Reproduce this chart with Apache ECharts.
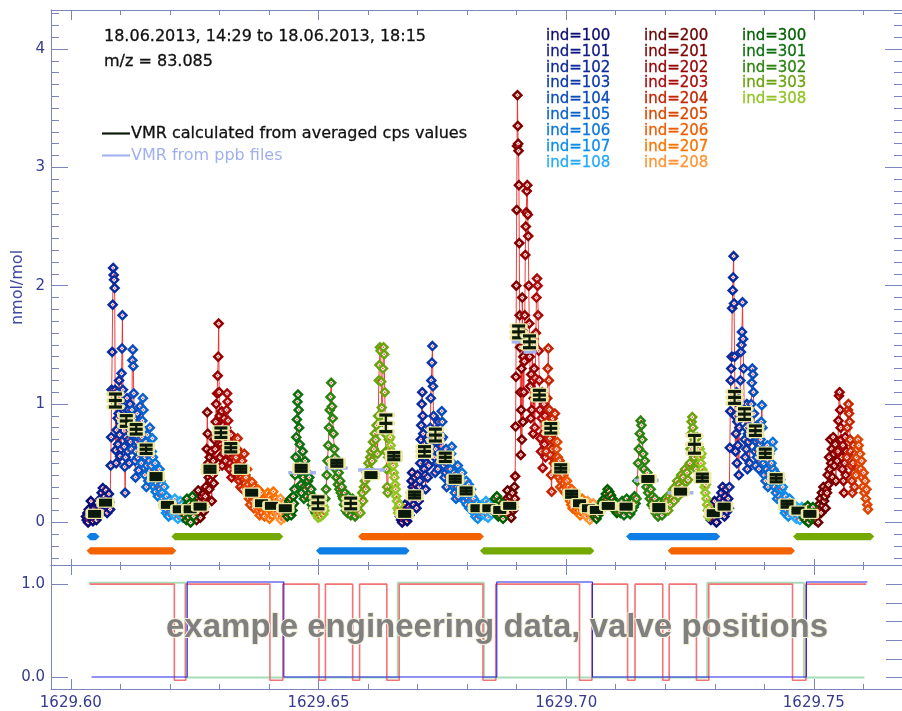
<!DOCTYPE html>
<html>
<head>
<meta charset="utf-8">
<script src="https://cdn.jsdelivr.net/npm/echarts@6/dist/echarts.min.js"></script>
<style>
  html, body { margin: 0; padding: 0; background: #ffffff; }
  #chart { width: 902px; height: 711px; }
</style>
</head>
<body>
<div id="chart"></div>
<script>
// ---- measurement blocks: edges of each block (fractional day) and the ind it belongs to ----
const segEdges = [1629.6030,1629.6058,1629.6080,1629.6102,1629.6122,1629.6142,1629.6162,1629.6184,1629.6207,1629.6229,
  1629.6251,1629.6271,1629.6291,1629.6313,1629.6333,1629.6353,1629.6375,1629.6395,1629.6415,1629.6435,
  1629.6451,1629.6477,1629.6495,1629.6513,1629.6549,1629.6580,1629.6620,1629.6644,1629.6664,1629.6684,
  1629.6704,1629.6724,1629.6746,1629.6766,1629.6788,1629.6810,1629.6832,1629.6854,1629.6876,1629.6896,
  1629.6914,1629.6936,1629.6959,1629.6979,1629.7001,1629.7021,1629.7037,1629.7057,1629.7105,1629.7141,
  1629.7175,1629.7201,1629.7249,1629.7269,1629.7289,1629.7309,1629.7329,1629.7350,1629.7372,1629.7392,
  1629.7414,1629.7434,1629.7456,1629.7478,1629.7502,1629.7526,1629.7548,1629.7566,1629.7584,1629.7610];

const segInd = [100,101,102,103,104,105,106,107,108,300,200,201,202,203,204,205,206,207,208,
  300,301,301,308,302,302,303,303,308,
  100,101,102,103,104,105,106,107,108,300,200,201,202,203,204,205,206,207,208,
  300,301,302,302,303,303,308,
  100,101,102,103,104,105,106,107,108,300,200,201,202,204,205];

// VMR samples (nmol/mol) of every block, first cycle
const cycle1Samples = [
  [0.05,0.02,0.08,0.00,0.11,0.04,0.07,0.18,0.03,0.09,0.01,0.06,0.12,0.04,0.08,0.02,0.10,0.06,0.13,0.07],
  [0.12,0.20,0.09,0.25,0.15,0.29,0.18,0.10,0.22,0.14,0.27,0.16,0.08,0.20,0.13,0.24,0.17,0.11],
  [0.48,0.72,1.12,1.44,1.84,2.15,2.09,2.05,1.98,1.12,0.61,0.50,0.78,1.10,0.88,0.66,0.92,1.20,0.74,0.56,0.84,0.62],
  [1.26,1.47,1.75,1.12,0.98,0.87,0.64,0.47,0.25,0.55,0.72,0.90,1.05,0.82,0.60,0.95,0.70,0.50,0.85,1.00,0.68,0.78],
  [0.62,0.95,1.37,1.46,1.32,1.09,0.88,0.74,0.52,0.38,0.60,0.80,0.68,0.92,0.55,0.72,0.44,0.85,0.64,0.98,0.70,0.58],
  [0.50,0.72,0.86,1.05,0.95,0.78,0.62,0.40,0.55,0.68,0.30,0.48,0.74,0.58,0.35,0.65,0.52,0.80,0.44,0.60],
  [0.48,0.60,0.71,0.55,0.42,0.30,0.36,0.50,0.26,0.44,0.33,0.40,0.22,0.38,0.30,0.45,0.28,0.35,0.24,0.32],
  [0.25,0.20,0.15,0.30,0.12,0.18,0.08,0.22,0.10,0.16,0.05,0.13,0.19,0.09,0.14,0.07,0.17,0.11],
  [0.14,0.08,0.20,0.05,0.12,0.10,0.16,0.03,0.09,0.13,0.06,0.18,0.11,0.07,0.15,0.04,0.10,0.12],
  [0.10,0.06,0.14,0.02,0.20,0.08,0.12,0.04,0.16,0.10,0.00,0.13,0.07,0.22,0.09,0.05,0.11,0.15],
  [0.06,0.10,0.02,0.15,0.20,0.27,0.12,0.08,0.18,0.04,0.14,0.22,0.10,0.16,0.24,0.09,0.13,0.19],
  [0.22,0.30,0.45,0.62,0.93,0.75,0.50,0.38,0.28,0.55,0.42,0.35,0.60,0.18,0.48,0.40,0.52,0.33,0.70,0.44],
  [0.62,0.85,1.00,0.72,1.09,1.24,1.40,1.68,1.10,0.90,0.55,0.78,0.66,0.94,0.48,0.70,0.82,0.58,0.88,0.64,0.75,0.52],
  [0.80,0.95,1.09,1.02,0.86,0.70,0.58,0.45,0.62,0.50,0.74,0.38,0.66,0.55,0.42,0.60,0.48,0.68,0.52,0.57],
  [0.55,0.48,0.62,0.71,0.60,0.42,0.35,0.50,0.30,0.45,0.38,0.52,0.28,0.44,0.36,0.58,0.33,0.40],
  [0.38,0.30,0.45,0.25,0.32,0.20,0.28,0.15,0.26,0.22,0.34,0.18,0.24,0.12,0.30,0.20,0.27,0.16],
  [0.22,0.15,0.28,0.10,0.18,0.06,0.20,0.12,0.25,0.14,0.08,0.19,0.13,0.17,0.05,0.21,0.11,0.16],
  [0.20,0.12,0.25,0.08,0.18,0.03,0.22,0.14,0.10,0.19,0.06,0.16,0.26,0.11,0.15,0.09,0.20,0.13],
  [0.14,0.08,0.18,0.05,0.12,0.10,0.20,0.02,0.15,0.07,0.11,0.16,0.04,0.13,0.09,0.12],
  [0.10,0.05,0.15,0.08,0.18,0.12,0.20,0.06,0.14,0.10,0.22,0.16],
  [0.28,0.40,0.55,0.72,0.87,1.02,1.08,0.95,0.80,0.66,0.50,0.32,0.25,0.45,0.60,0.38,0.20,0.30,0.52,0.28,0.42,0.22],
  [0.42,0.35,0.30,0.38,0.25,0.20,0.28,0.15,0.22,0.12,0.18,0.10,0.16,0.08],
  [0.10,0.06,0.14,0.04,0.12,0.08,0.18,0.05,0.11,0.09,0.15,0.07,0.13,0.10],
  [0.20,0.28,0.40,0.52,0.65,0.80,0.95,1.06,1.18,0.98,0.88,0.75,0.62,0.55,0.45,0.38,0.50,0.32,0.42,0.28,0.35,0.25,0.30,0.22],
  [0.20,0.15,0.25,0.10,0.18,0.08,0.22,0.12,0.16,0.06,0.14,0.20,0.10,0.17,0.05,0.13,0.09,0.15],
  [0.10,0.15,0.08,0.20,0.25,0.18,0.30,0.35,0.28,0.42,0.38,0.50,0.45,0.55,0.60,0.52,0.68,0.62,0.75,0.70,0.82,0.58],
  [0.90,1.20,1.33,1.48,1.45,1.19,0.97,0.85,1.30,1.48,1.42,1.10,0.75,0.60,0.45,0.30,0.25,0.55,0.70,0.62],
  [0.72,0.65,0.60,0.55,0.50,0.48,0.42,0.38,0.32,0.28,0.22,0.18,0.12,0.08,0.10,0.15]
];
// second cycle
const cycle2Samples = [
  [0.05,0.10,0.02,0.08,0.00,0.12,0.06,0.03,0.09,0.15,0.04,0.07,0.11,0.01,0.08,0.05,0.13,0.06],
  [0.10,0.18,0.25,0.35,0.42,0.30,0.22,0.15,0.28,0.38,0.20,0.32,0.12,0.26,0.40,0.24,0.18,0.30],
  [0.35,0.50,0.70,0.82,1.00,1.10,0.90,0.75,0.60,0.45,0.55,0.40,0.28,0.62,0.50,0.70,0.38,0.58,0.48,0.65],
  [0.60,0.80,1.05,1.20,1.35,1.49,1.15,0.90,0.70,0.55,0.42,0.62,0.78,0.50,0.68,0.45,0.85,0.58,0.72,0.52],
  [0.50,0.70,0.94,0.85,0.72,0.60,0.48,0.38,0.55,0.42,0.62,0.30,0.50,0.45,0.58,0.35,0.52,0.40],
  [0.45,0.58,0.64,0.50,0.38,0.30,0.42,0.25,0.35,0.20,0.40,0.30,0.48,0.22,0.36,0.28,0.33,0.26],
  [0.30,0.42,0.36,0.25,0.30,0.18,0.28,0.22,0.35,0.15,0.26,0.20,0.32,0.12,0.24,0.18,0.28,0.22],
  [0.18,0.12,0.20,0.08,0.15,0.05,0.12,0.10,0.16,0.03,0.13,0.09,0.14,0.06,0.11,0.08,0.15,0.10],
  [0.10,0.14,0.06,0.12,0.18,0.08,0.15,0.04,0.11,0.16,0.09,0.13,0.07,0.12,0.10,0.14],
  [0.12,0.20,0.08,0.15,0.22,0.10,0.05,0.14,0.18,0.06,0.12,0.09,0.16,0.03,0.10,0.13],
  [0.10,0.15,0.06,0.20,0.27,0.12,0.18,0.08,0.22,0.14,0.04,0.16,0.25,0.10,0.13,0.30],
  [0.20,0.39,0.81,1.23,2.00,2.64,3.18,3.61,3.35,3.20,3.14,2.85,2.36,1.75,1.48,1.10,0.57,0.95,1.30,0.70,1.90,1.62,0.85,1.40],
  [1.10,1.36,1.75,2.26,2.50,2.62,2.80,2.85,2.60,2.42,2.00,1.68,1.40,1.15,0.88,1.25,0.95,1.55,1.20,0.75,1.05,1.30],
  [0.80,1.22,1.60,1.90,2.06,2.00,1.75,1.45,1.20,0.95,0.71,0.60,0.88,1.10,0.46,0.75,1.00,0.66,0.90,0.55],
  [0.60,0.85,1.05,1.30,1.47,1.20,0.95,0.71,0.57,0.40,0.26,0.62,0.88,0.75,0.50,0.68,0.92,0.55],
  [0.50,0.62,0.68,0.55,0.45,0.38,0.52,0.30,0.42,0.35,0.48,0.28,0.40,0.33,0.44,0.25,0.36,0.30],
  [0.35,0.28,0.30,0.22,0.26,0.18,0.24,0.15,0.28,0.12,0.20,0.25,0.16,0.22,0.10,0.19],
  [0.20,0.14,0.22,0.10,0.18,0.06,0.16,0.12,0.20,0.08,0.15,0.11],
  [0.15,0.10,0.05,0.12,0.18,0.08,0.14,0.02,0.10,0.13,0.06,0.11,0.16,0.09],
  [0.05,0.08,0.03,0.10,0.06,0.12,0.09,0.15,0.11,0.18,0.14,0.20,0.16,0.24,0.19,0.28,0.22,0.26,0.18,0.23,0.15,0.20,0.12,0.17,0.10,0.14,0.08,0.12],
  [0.10,0.15,0.08,0.13,0.18,0.10,0.06,0.14,0.11,0.20,0.09,0.16,0.12,0.07,0.15,0.10,0.18,0.13,0.22,0.16],
  [0.20,0.35,0.50,0.62,0.75,0.86,0.82,0.70,0.58,0.45,0.52,0.38,0.30,0.42,0.25,0.34,0.20,0.28,0.15,0.22],
  [0.18,0.12,0.20,0.08,0.15,0.10,0.05,0.13,0.17,0.09,0.14,0.06,0.12,0.16,0.10,0.20],
  [0.12,0.18,0.10,0.22,0.15,0.25,0.20,0.28,0.18,0.30,0.24,0.35,0.22,0.32,0.28,0.40,0.30,0.38,0.26,0.45,0.34,0.42,0.36,0.48],
  [0.50,0.62,0.75,0.85,0.89,0.80,0.67,0.55,0.70,0.60,0.45,0.58,0.72,0.50,0.64,0.38],
  [0.62,0.55,0.50,0.58,0.45,0.40,0.35,0.42,0.30,0.25,0.32,0.20,0.15,0.10,0.05,0.12]
];
// third cycle
const cycle3Samples = [
  [0.05,0.10,0.02,0.12,0.06,0.15,0.03,0.08,0.18,0.04,0.09,0.00,0.11,0.06,0.14,0.07],
  [0.12,0.20,0.08,0.25,0.15,0.30,0.10,0.18,0.05,0.22,0.14,0.28,0.09,0.16,0.20,0.12],
  [0.30,0.63,0.94,1.20,1.30,1.40,1.81,1.96,2.07,2.25,1.85,1.40,0.90,0.60,0.75,1.10,0.50,0.85,0.65,1.00,0.40,0.80],
  [0.90,1.20,1.44,1.50,1.61,1.86,1.55,1.30,0.95,0.70,0.55,0.80,0.62,1.00,0.45,0.75,0.68,0.88,0.50,0.72],
  [0.80,1.00,1.18,1.30,1.25,1.10,0.92,0.75,0.60,0.48,0.68,0.55,0.82,0.62,0.70,0.45,0.58,0.66],
  [0.70,0.85,0.99,0.80,0.62,0.50,0.40,0.55,0.35,0.60,0.45,0.65,0.30,0.52,0.42,0.58,0.48,0.38],
  [0.50,0.62,0.68,0.45,0.38,0.30,0.42,0.25,0.35,0.20,0.40,0.28,0.33,0.22,0.36,0.18],
  [0.28,0.20,0.30,0.12,0.18,0.08,0.22,0.14,0.10,0.16,0.05,0.13,0.20,0.09,0.15,0.11],
  [0.12,0.08,0.15,0.05,0.10,0.14,0.03,0.09,0.12,0.06,0.11,0.02,0.10,0.08,0.13,0.07],
  [0.08,0.04,0.12,0.02,0.10,0.06,0.14,0.00,0.07,0.11,0.03,0.09,0.05,0.13,0.08,0.06],
  [0.02,0.08,0.05,0.12,0.00,0.15,0.10,0.20,0.08,0.25,0.14,0.30,0.18,0.22,0.12,0.28],
  [0.25,0.40,0.32,0.55,0.45,0.70,0.50,0.62,0.38,0.72,0.58,0.48,0.66,0.35,0.60,0.52],
  [0.60,0.86,1.07,1.10,0.95,0.80,0.70,0.55,0.45,0.65,0.35,0.25,0.50,0.72,0.40,0.60],
  [0.55,0.80,0.95,1.00,0.92,0.85,0.70,0.60,0.48,0.35,0.25,0.50,0.65,0.42,0.30,0.58],
  [0.40,0.55,0.62,0.70,0.65,0.50,0.58,0.45,0.52,0.38,0.30,0.42,0.25,0.35,0.20,0.28,0.15,0.11]
];

// VMR calculated from averaged cps values: time, mean, half error range
const barTime = [1629.6048,1629.6070,1629.6090,1629.6112,1629.6132,1629.6152,1629.6172,1629.6195,1629.6219,1629.6241,
  1629.6261,1629.6281,1629.6303,1629.6323,1629.6343,1629.6365,1629.6385,1629.6405,1629.6433,1629.6465,
  1629.6499,1629.6537,1629.6565,1629.6606,1629.6636,1629.6652,1629.6674,1629.6694,1629.6714,1629.6736,
  1629.6756,1629.6776,1629.6798,1629.6820,1629.6844,1629.6866,1629.6886,1629.6904,1629.6926,1629.6946,
  1629.6969,1629.6989,1629.7011,1629.7027,1629.7045,1629.7061,1629.7085,1629.7121,1629.7165,1629.7187,
  1629.7231,1629.7259,1629.7275,1629.7297,1629.7319,1629.7340,1629.7360,1629.7382,1629.7402,1629.7424,
  1629.7446,1629.7468,1629.7492];
const barMean = [0.072,0.167,1.03,0.857,0.787,0.618,0.387,0.148,0.111,0.111,
  0.133,0.449,0.758,0.631,0.449,0.251,0.162,0.14,0.12,0.457,
  0.165,0.50,0.16,0.40,0.837,0.56,0.072,0.232,0.60,0.738,
  0.55,0.365,0.266,0.12,0.12,0.105,0.14,1.61,1.526,1.076,
  0.795,0.457,0.238,0.162,0.12,0.105,0.139,0.133,0.367,0.125,
  0.26,0.66,0.378,0.078,0.133,1.056,0.915,0.775,0.584,0.373,
  0.154,0.10,0.072];
const barErr = [0.02,0.02,0.055,0.045,0.04,0.035,0.025,0.02,0.02,0.02,
  0.02,0.025,0.04,0.035,0.025,0.02,0.02,0.02,0.02,0.025,
  0.05,0.025,0.045,0.02,0.07,0.03,0.02,0.025,0.04,0.05,
  0.035,0.025,0.025,0.02,0.02,0.02,0.02,0.05,0.05,0.04,
  0.04,0.03,0.025,0.02,0.02,0.02,0.02,0.02,0.02,0.025,
  0.02,0.075,0.03,0.02,0.02,0.05,0.045,0.04,0.035,0.03,
  0.025,0.02,0.02];

// VMR from ppb files: start, end, value
const ppbStart = [1629.6078,1629.6100,1629.6439,1629.6513,1629.6580,1629.6890,1629.6914,1629.6934,1629.6957,1629.7137,1629.7205,1629.7325,1629.7348];
const ppbEnd   = [1629.6102,1629.6124,1629.6495,1629.6559,1629.6634,1629.6918,1629.6940,1629.6959,1629.6981,1629.7187,1629.7257,1629.7354,1629.7374];
const ppbValue = [0.975,0.83,0.42,0.46,0.443,1.526,1.44,1.03,0.76,0.355,0.25,1.008,0.89];

// sampling periods shown below the zero line
const periodStart = [1629.6032,1629.6203,1629.6580,1629.7121,1629.7458,1629.6032,1629.6495,1629.6826,1629.7205];
const periodEnd   = [1629.6058,1629.6429,1629.6834,1629.7311,1629.7622,1629.6213,1629.6684,1629.7057,1629.7462];
const periodRow   = [1,1,1,1,1,2,2,2,2];
const periodKind  = ['blue','green','orange','blue','green','orange','blue','green','orange'];

// valve positions (state after each switching time; last entry closes the record)
const valveRedTimes   = [1629.6038,1629.6209,1629.6232,1629.6402,1629.6428,1629.6501,1629.6514,1629.6569,1629.6583,1629.6638,1629.6663,1629.6832,
  1629.6858,1629.7027,1629.7052,1629.7124,1629.7139,1629.7195,1629.7208,1629.7263,1629.7288,1629.7457,1629.7484,1629.7606];
const valveRedState   = [1,0,1,0,1,0,1,0,1,0,1,0,1,0,1,0,1,0,1,0,1,0,1,1];
const valveGreenTimes = [1629.6036,1629.6231,1629.6660,1629.6834,1629.7285,1629.7480,1629.7602];
const valveGreenState = [1,0,1,0,1,0,0];
const valveBlueTimes  = [1629.6042,1629.6235,1629.6430,1629.6860,1629.7053,1629.7485,1629.7608];
const valveBlueState  = [0,1,0,1,0,1,1];

// axis ticks
const xMajorTicks = [1629.60,1629.65,1629.70,1629.75];
const xMinorTicks = [1629.60,1629.61,1629.62,1629.63,1629.64,1629.65,1629.66,1629.67,1629.68,1629.69,1629.70,1629.71,1629.72,1629.73,1629.74,1629.75,1629.76];
const yMainMajor = [0,1,2,3,4];
const yLowMajor = [0,1];
const yLowMinor = [0,0.2,0.4,0.6,0.8,1.0];

// legend entries
const legendCol1 = [100,101,102,103,104,105,106,107,108];
const legendCol2 = [200,201,202,203,204,205,206,207,208];
const legendCol3 = [300,301,302,303,308];

// ---------------------------------------------------------------------------
const indColors = {
  100:'#0c0c72',101:'#0e1a86',102:'#0c2a9c',103:'#0c38aa',104:'#0a4cbc',105:'#0a62cc',106:'#0a76dc',107:'#0c8cec',108:'#26aaf8',
  200:'#6a0000',201:'#800000',202:'#960000',203:'#aa0a0a',204:'#c42400',205:'#dc4600',206:'#f25c00',207:'#fa7400',208:'#ff9434',
  300:'#006000',301:'#0e7010',302:'#2c8210',303:'#6ca210',308:'#92c424'
};
const periodColors = { blue:'#0c7ee6', green:'#74aa00', orange:'#f46200' };
const periodLevels = { 1: -0.12, 2: -0.24 };
const valveLevels = {
  red:   { 1: 1.0,   0: -0.03 },
  green: { 1: 1.016, 0: 0.0 },
  blue:  { 1: 1.022, 0: 0.004 }
};

const X_MIN = 1629.596, X_MAX = 1629.7678;
const AXIS_COLOR = '#7c84bc', LABEL_COLOR = '#363c8c';
const FONT = '"DejaVu Sans", sans-serif';

// samples laid out evenly inside each block
const samples = [...cycle1Samples, ...cycle2Samples, ...cycle3Samples];
const allPts = [];
const byInd = {};
segInd.forEach((ind, k) => {
  const vals = samples[k];
  const t0 = segEdges[k], t1 = segEdges[k + 1];
  const dt = (t1 - t0) / vals.length;
  vals.forEach((v, i) => {
    const p = [t0 + (i + 0.5) * dt, v];
    allPts.push(p);
    (byInd[ind] = byInd[ind] || []).push(p);
  });
});

function mkX(grid, position, ticks, len, line, labels) {
  return {
    type: 'value', gridIndex: grid, position, min: X_MIN, max: X_MAX,
    axisLine: { show: line, onZero: false, lineStyle: { color: AXIS_COLOR, width: 1 } },
    axisTick: { show: true, inside: true, length: len, customValues: ticks, lineStyle: { color: AXIS_COLOR, width: 1 } },
    axisLabel: labels ? {
      show: true, customValues: xMajorTicks, formatter: v => v.toFixed(2),
      color: LABEL_COLOR, fontFamily: FONT, fontSize: 15, margin: 7
    } : { show: false },
    splitLine: { show: false }
  };
}
function mkY(grid, position, min, max, ticks, len, line, labelFmt) {
  return {
    type: 'value', gridIndex: grid, position, min, max,
    axisLine: { show: line, onZero: false, lineStyle: { color: AXIS_COLOR, width: 1 } },
    axisTick: { show: true, inside: true, length: len, customValues: ticks, lineStyle: { color: AXIS_COLOR, width: 1 } },
    axisLabel: labelFmt ? {
      show: true, customValues: ticks, formatter: labelFmt,
      color: LABEL_COLOR, fontFamily: FONT, fontSize: 15, margin: 6
    } : { show: false },
    splitLine: { show: false }
  };
}
const yMainMinor = [];
for (let k = -3; k <= 43; k++) yMainMinor.push(k / 10);

const Y_MAIN = [-0.36, 4.33], Y_LOW = [-0.124, 1.205];

const series = [];
// thin red trace joining consecutive samples
series.push({
  type: 'line', xAxisIndex: 0, yAxisIndex: 0, data: allPts, symbol: 'none', z: 1, silent: true,
  lineStyle: { color: '#f02828', width: 1, opacity: 0.9 }
});
// diamonds per ind
Object.keys(byInd).forEach(ind => {
  series.push({
    type: 'scatter', xAxisIndex: 0, yAxisIndex: 0, data: byInd[ind], z: 2, silent: true,
    symbol: 'diamond', symbolSize: 8,
    itemStyle: { color: '#ffffff', borderColor: indColors[ind], borderWidth: 2.5, opacity: 1 }
  });
});
// red centre dots
series.push({
  type: 'scatter', xAxisIndex: 0, yAxisIndex: 0, data: allPts, z: 3, silent: true,
  symbol: 'rect', symbolSize: 1.5, itemStyle: { color: '#ff2020' }
});
// sampling periods
series.push({
  type: 'custom', xAxisIndex: 0, yAxisIndex: 0, z: 3, silent: true,
  data: periodStart.map((s, i) => [s, periodEnd[i], periodRow[i], i]),
  renderItem(params, api) {
    const i = api.value(3);
    const lvl = periodLevels[api.value(2)];
    const a = api.coord([api.value(0), lvl]), b = api.coord([api.value(1), lvl]);
    const h = 3.6;
    return {
      type: 'polygon',
      shape: { points: [[a[0], a[1]], [a[0] + h, a[1] - h], [b[0] - h, b[1] - h], [b[0], b[1]], [b[0] - h, b[1] + h], [a[0] + h, a[1] + h]] },
      style: { fill: periodColors[periodKind[i]] }
    };
  }
});
// VMR from ppb files
series.push({
  type: 'custom', xAxisIndex: 0, yAxisIndex: 0, z: 4, silent: true,
  data: ppbStart.map((s, i) => [s, ppbEnd[i], ppbValue[i]]),
  renderItem(params, api) {
    const a = api.coord([api.value(0), api.value(2)]), b = api.coord([api.value(1), api.value(2)]);
    return { type: 'line', shape: { x1: a[0], y1: a[1], x2: b[0], y2: b[1] }, style: { stroke: '#a4b4f2', lineWidth: 3.5 } };
  }
});
// VMR calculated from averaged cps values, with error bars
series.push({
  type: 'custom', xAxisIndex: 0, yAxisIndex: 0, z: 5, silent: true,
  data: barTime.map((t, i) => [t, barMean[i], barErr[i]]),
  renderItem(params, api) {
    const t = api.value(0), m = api.value(1), e = api.value(2);
    const pm = api.coord([t, m]), ph = api.coord([t, m + e]), pl = api.coord([t, m - e]);
    const hw = 6.5;
    const segs = [
      [pm[0] - hw, pm[1], pm[0] + hw, pm[1]],
      [ph[0] - hw, ph[1], ph[0] + hw, ph[1]],
      [pl[0] - hw, pl[1], pl[0] + hw, pl[1]],
      [ph[0], ph[1], pl[0], pl[1]]
    ];
    const children = [];
    segs.forEach(s => children.push({
      type: 'line', shape: { x1: s[0], y1: s[1], x2: s[2], y2: s[3] },
      style: { stroke: '#eeeaa6', lineWidth: 5.5, lineCap: 'round' }
    }));
    segs.forEach((s, k) => children.push({
      type: 'line', shape: { x1: s[0], y1: s[1], x2: s[2], y2: s[3] },
      style: { stroke: '#0c1a0c', lineWidth: k === 3 ? 2.2 : 3.2, lineCap: 'butt' }
    }));
    return { type: 'group', children };
  }
});
// valve positions in the lower panel
function valveSeries(times, states, lv, color, width, z) {
  return {
    type: 'line', xAxisIndex: 6, yAxisIndex: 4, step: 'end', symbol: 'none', z, silent: true,
    data: times.map((t, i) => [t, lv[states[i]]]),
    lineStyle: { color, width }
  };
}
series.push(valveSeries(valveGreenTimes, valveGreenState, valveLevels.green, '#a6dcb6', 2, 1));
series.push(valveSeries(valveRedTimes, valveRedState, valveLevels.red, '#f27474', 1.6, 2));
series.push(valveSeries(valveBlueTimes, valveBlueState, valveLevels.blue, '#2222e6', 1.1, 3));

// text overlays
const graphics = [
  { type: 'text', x: 104, y: 37, style: { text: '18.06.2013, 14:29 to 18.06.2013, 18:15', font: '16px ' + FONT, fill: '#111111', stroke: '#111111', lineWidth: 0.3, verticalAlign: 'middle' } },
  { type: 'text', x: 104, y: 62, style: { text: 'm/z = 83.085', font: '16px ' + FONT, fill: '#111111', stroke: '#111111', lineWidth: 0.3, verticalAlign: 'middle' } },
  { type: 'line', shape: { x1: 102, y1: 133.5, x2: 130, y2: 133.5 }, style: { stroke: '#0c1a0c', lineWidth: 2.2 } },
  { type: 'text', x: 131, y: 133.5, style: { text: 'VMR calculated from averaged cps values', font: '16px ' + FONT, fill: '#111111', stroke: '#111111', lineWidth: 0.3, verticalAlign: 'middle' } },
  { type: 'line', shape: { x1: 102, y1: 155.5, x2: 130, y2: 155.5 }, style: { stroke: '#a4b4f2', lineWidth: 2.2 } },
  { type: 'text', x: 131, y: 155.5, style: { text: 'VMR from ppb files', font: '16px ' + FONT, fill: '#9fb0f0', verticalAlign: 'middle' } },
  { type: 'text', x: 18, y: 287.5, rotation: Math.PI / 2, style: { text: 'nmol/mol', font: '16px ' + FONT, fill: '#4048a0', align: 'center', verticalAlign: 'middle' } },
  { type: 'text', x: 166, y: 628, z: 100, style: { text: 'example engineering data, valve positions', font: 'bold 33px "Liberation Sans", Arial, sans-serif', fill: '#808080', stroke: '#f3f1dc', lineWidth: 2, strokeFirst: true, verticalAlign: 'middle' } }
];
[[legendCol1, 546], [legendCol2, 644], [legendCol3, 742]].forEach(([col, x]) => {
  col.forEach((ind, r) => graphics.push({
    type: 'text', x, y: 36 + r * 15.85,
    style: { text: 'ind=' + ind, font: '15px ' + FONT, fill: indColors[ind], stroke: indColors[ind], lineWidth: 0.3, verticalAlign: 'middle' }
  }));
});

const chart = echarts.init(document.getElementById('chart'), null, { renderer: 'canvas' });
chart.setOption({
  backgroundColor: '#ffffff',
  animation: false,
  grid: [
    { left: 51, right: -6, top: 10, bottom: 146 },
    { left: 51, right: -6, top: 565, bottom: 21 }
  ],
  xAxis: [
    mkX(0, 'bottom', xMajorTicks, 6, true, false),
    mkX(0, 'bottom', xMinorTicks, 3, false, false),
    mkX(0, 'top', xMajorTicks, 10, true, false),
    mkX(0, 'top', xMinorTicks, 5, false, false),
    mkX(1, 'top', xMajorTicks, 10, true, false),
    mkX(1, 'top', xMinorTicks, 5, false, false),
    mkX(1, 'bottom', xMajorTicks, 10, true, true),
    mkX(1, 'bottom', xMinorTicks, 5, false, false)
  ],
  yAxis: [
    mkY(0, 'left', Y_MAIN[0], Y_MAIN[1], yMainMajor, 17, true, v => String(v)),
    mkY(0, 'left', Y_MAIN[0], Y_MAIN[1], yMainMinor, 8, false, null),
    mkY(0, 'right', Y_MAIN[0], Y_MAIN[1], yMainMajor, 17, true, null),
    mkY(0, 'right', Y_MAIN[0], Y_MAIN[1], yMainMinor, 8, false, null),
    mkY(1, 'left', Y_LOW[0], Y_LOW[1], yLowMajor, 17, true, v => v.toFixed(1)),
    mkY(1, 'right', Y_LOW[0], Y_LOW[1], yLowMinor, 16, true, null)
  ],
  series,
  graphic: graphics
});
</script>
</body>
</html>
